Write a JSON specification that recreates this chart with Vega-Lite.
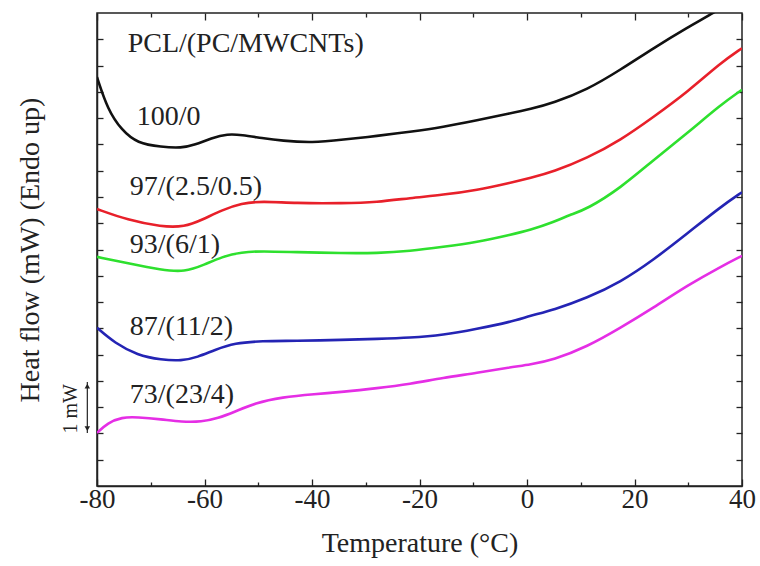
{
  "$schema": "https://vega.github.io/schema/vega-lite/v6.json",
  "width": 645,
  "height": 473,
  "autosize": "none",
  "padding": {"left": 97, "top": 13, "right": 18, "bottom": 80},
  "background": "white",
  "config": {
    "view": {"stroke": "#222", "strokeWidth": 1.5},
    "font": "Liberation Serif",
    "axis": {"domainColor": "#222", "domainWidth": 1.5, "tickColor": "#222", "tickWidth": 1.3, "grid": false, "labelFont": "Liberation Serif", "titleFont": "Liberation Serif", "labelColor": "#222", "titleColor": "#222", "titleFontWeight": "normal"}
  },
  "datasets": {
    "curves": [
      {"s": "100/0", "T": -80, "v": 7.78}, {"s": "100/0", "T": -78, "v": 7.16}, {"s": "100/0", "T": -75.4, "v": 6.77}, {"s": "100/0", "T": -72.5, "v": 6.52}, {"s": "100/0", "T": -68, "v": 6.45}, {"s": "100/0", "T": -64.3, "v": 6.43}, {"s": "100/0", "T": -61.8, "v": 6.49}, {"s": "100/0", "T": -58.7, "v": 6.62}, {"s": "100/0", "T": -55.7, "v": 6.7}, {"s": "100/0", "T": -53.1, "v": 6.68}, {"s": "100/0", "T": -49.3, "v": 6.62}, {"s": "100/0", "T": -45.6, "v": 6.57}, {"s": "100/0", "T": -40, "v": 6.53}, {"s": "100/0", "T": -34.2, "v": 6.59}, {"s": "100/0", "T": -27.9, "v": 6.66}, {"s": "100/0", "T": -21.8, "v": 6.74}, {"s": "100/0", "T": -15.6, "v": 6.83}, {"s": "100/0", "T": -9.3, "v": 6.96}, {"s": "100/0", "T": -3.1, "v": 7.09}, {"s": "100/0", "T": 0.6, "v": 7.17}, {"s": "100/0", "T": 4.9, "v": 7.29}, {"s": "100/0", "T": 11.2, "v": 7.54}, {"s": "100/0", "T": 17.4, "v": 7.92}, {"s": "100/0", "T": 23.5, "v": 8.33}, {"s": "100/0", "T": 29.9, "v": 8.73}, {"s": "100/0", "T": 34.7, "v": 9.0}, {"s": "100/0", "T": 40, "v": 9.34},
      {"s": "97/(2.5/0.5)", "T": -80, "v": 5.27}, {"s": "97/(2.5/0.5)", "T": -74.3, "v": 5.06}, {"s": "97/(2.5/0.5)", "T": -68, "v": 4.93}, {"s": "97/(2.5/0.5)", "T": -63.7, "v": 4.93}, {"s": "97/(2.5/0.5)", "T": -60.5, "v": 5.06}, {"s": "97/(2.5/0.5)", "T": -56.8, "v": 5.25}, {"s": "97/(2.5/0.5)", "T": -53.1, "v": 5.38}, {"s": "97/(2.5/0.5)", "T": -49.3, "v": 5.42}, {"s": "97/(2.5/0.5)", "T": -43.2, "v": 5.38}, {"s": "97/(2.5/0.5)", "T": -34.2, "v": 5.38}, {"s": "97/(2.5/0.5)", "T": -27.9, "v": 5.4}, {"s": "97/(2.5/0.5)", "T": -21.8, "v": 5.48}, {"s": "97/(2.5/0.5)", "T": -15.6, "v": 5.54}, {"s": "97/(2.5/0.5)", "T": -9.3, "v": 5.63}, {"s": "97/(2.5/0.5)", "T": -3.1, "v": 5.77}, {"s": "97/(2.5/0.5)", "T": 0.6, "v": 5.86}, {"s": "97/(2.5/0.5)", "T": 4.9, "v": 5.98}, {"s": "97/(2.5/0.5)", "T": 11.2, "v": 6.24}, {"s": "97/(2.5/0.5)", "T": 17.4, "v": 6.58}, {"s": "97/(2.5/0.5)", "T": 23.5, "v": 7.02}, {"s": "97/(2.5/0.5)", "T": 29.9, "v": 7.5}, {"s": "97/(2.5/0.5)", "T": 36.0, "v": 8.05}, {"s": "97/(2.5/0.5)", "T": 40, "v": 8.33},
      {"s": "93/(6/1)", "T": -80, "v": 4.36}, {"s": "93/(6/1)", "T": -74.3, "v": 4.24}, {"s": "93/(6/1)", "T": -68, "v": 4.11}, {"s": "93/(6/1)", "T": -63.7, "v": 4.07}, {"s": "93/(6/1)", "T": -60, "v": 4.21}, {"s": "93/(6/1)", "T": -56.8, "v": 4.36}, {"s": "93/(6/1)", "T": -53.1, "v": 4.45}, {"s": "93/(6/1)", "T": -49.3, "v": 4.47}, {"s": "93/(6/1)", "T": -43.2, "v": 4.45}, {"s": "93/(6/1)", "T": -34.2, "v": 4.43}, {"s": "93/(6/1)", "T": -27.9, "v": 4.43}, {"s": "93/(6/1)", "T": -21.8, "v": 4.47}, {"s": "93/(6/1)", "T": -15.6, "v": 4.55}, {"s": "93/(6/1)", "T": -9.3, "v": 4.64}, {"s": "93/(6/1)", "T": -3.1, "v": 4.78}, {"s": "93/(6/1)", "T": 0.6, "v": 4.87}, {"s": "93/(6/1)", "T": 4.9, "v": 5.02}, {"s": "93/(6/1)", "T": 8, "v": 5.16}, {"s": "93/(6/1)", "T": 11.2, "v": 5.27}, {"s": "93/(6/1)", "T": 17.4, "v": 5.67}, {"s": "93/(6/1)", "T": 23.5, "v": 6.2}, {"s": "93/(6/1)", "T": 29.9, "v": 6.72}, {"s": "93/(6/1)", "T": 36.0, "v": 7.25}, {"s": "93/(6/1)", "T": 40, "v": 7.54},
      {"s": "87/(11/2)", "T": -80, "v": 3.01}, {"s": "87/(11/2)", "T": -76.7, "v": 2.72}, {"s": "87/(11/2)", "T": -72.5, "v": 2.49}, {"s": "87/(11/2)", "T": -68, "v": 2.4}, {"s": "87/(11/2)", "T": -64.3, "v": 2.38}, {"s": "87/(11/2)", "T": -61.3, "v": 2.45}, {"s": "87/(11/2)", "T": -58.1, "v": 2.59}, {"s": "87/(11/2)", "T": -54.4, "v": 2.72}, {"s": "87/(11/2)", "T": -49.3, "v": 2.76}, {"s": "87/(11/2)", "T": -43.2, "v": 2.76}, {"s": "87/(11/2)", "T": -34.2, "v": 2.78}, {"s": "87/(11/2)", "T": -27.9, "v": 2.8}, {"s": "87/(11/2)", "T": -21.8, "v": 2.82}, {"s": "87/(11/2)", "T": -15.6, "v": 2.87}, {"s": "87/(11/2)", "T": -9.3, "v": 2.99}, {"s": "87/(11/2)", "T": -3.1, "v": 3.12}, {"s": "87/(11/2)", "T": 0.6, "v": 3.24}, {"s": "87/(11/2)", "T": 4.9, "v": 3.35}, {"s": "87/(11/2)", "T": 11.2, "v": 3.58}, {"s": "87/(11/2)", "T": 17.4, "v": 3.88}, {"s": "87/(11/2)", "T": 23.5, "v": 4.3}, {"s": "87/(11/2)", "T": 29.9, "v": 4.81}, {"s": "87/(11/2)", "T": 36.0, "v": 5.31}, {"s": "87/(11/2)", "T": 40, "v": 5.59},
      {"s": "73/(23/4)", "T": -80, "v": 1.01}, {"s": "73/(23/4)", "T": -78, "v": 1.2}, {"s": "73/(23/4)", "T": -75.4, "v": 1.31}, {"s": "73/(23/4)", "T": -72.5, "v": 1.31}, {"s": "73/(23/4)", "T": -68, "v": 1.27}, {"s": "73/(23/4)", "T": -64.3, "v": 1.22}, {"s": "73/(23/4)", "T": -60.5, "v": 1.22}, {"s": "73/(23/4)", "T": -57.5, "v": 1.29}, {"s": "73/(23/4)", "T": -54.4, "v": 1.41}, {"s": "73/(23/4)", "T": -50.6, "v": 1.58}, {"s": "73/(23/4)", "T": -45.6, "v": 1.69}, {"s": "73/(23/4)", "T": -39.5, "v": 1.75}, {"s": "73/(23/4)", "T": -34.2, "v": 1.79}, {"s": "73/(23/4)", "T": -27.9, "v": 1.86}, {"s": "73/(23/4)", "T": -21.8, "v": 1.94}, {"s": "73/(23/4)", "T": -15.6, "v": 2.06}, {"s": "73/(23/4)", "T": -9.3, "v": 2.15}, {"s": "73/(23/4)", "T": -3.1, "v": 2.26}, {"s": "73/(23/4)", "T": 0.6, "v": 2.31}, {"s": "73/(23/4)", "T": 4.9, "v": 2.4}, {"s": "73/(23/4)", "T": 11.2, "v": 2.65}, {"s": "73/(23/4)", "T": 17.4, "v": 3.01}, {"s": "73/(23/4)", "T": 23.5, "v": 3.39}, {"s": "73/(23/4)", "T": 29.9, "v": 3.82}, {"s": "73/(23/4)", "T": 36.0, "v": 4.17}, {"s": "73/(23/4)", "T": 40, "v": 4.38}
    ],
    "labels": [
      {"label": "PCL/(PC/MWCNTs)", "T": -74.3, "v": 8.41},
      {"label": "100/0", "T": -72.6, "v": 7.02},
      {"label": "97/(2.5/0.5)", "T": -73.9, "v": 5.69},
      {"label": "93/(6/1)", "T": -73.9, "v": 4.59},
      {"label": "87/(11/2)", "T": -73.9, "v": 3.03},
      {"label": "73/(23/4)", "T": -73.9, "v": 1.73}
    ],
    "arrow": [
      {"T": -81.8, "v1": 1.01, "v2": 1.98}
    ],
    "heads": [
      {"T": -81.8, "v": 1.9, "dir": "triangle-up"},
      {"T": -81.8, "v": 1.09, "dir": "triangle-down"}
    ],
    "scale": [
      {"text": "1 mW", "T": -84.9, "v": 1.47}
    ]
  },
  "layer": [
    {
      "data": {"name": "curves"},
      "mark": {"type": "line", "interpolate": "basis", "strokeWidth": 2.6, "clip": true},
      "encoding": {
        "x": {"field": "T", "type": "quantitative", "scale": {"domain": [-80, 40], "nice": false, "zero": false},
          "axis": {"orient": "bottom", "values": [-80, -70, -60, -50, -40, -30, -20, -10, 0, 10, 20, 30, 40],
            "labelExpr": "datum.value % 20 === 0 ? '' + datum.value : ''",
            "tickSize": {"condition": {"test": "datum.value % 20 === 0", "value": -7}, "value": -4},
            "labelPadding": 7, "labelFontSize": 27, "labelFlush": false, "labelOverlap": false,
            "title": "Temperature (°C)", "titleFontSize": 28, "titlePadding": 14}},
        "y": {"field": "v", "type": "quantitative", "scale": {"domain": [0, 9], "nice": false, "zero": false},
          "axis": {"orient": "left", "values": [0.5, 1, 1.5, 2, 2.5, 3, 3.5, 4, 4.5, 5, 5.5, 6, 6.5, 7, 7.5, 8, 8.5],
            "labels": false, "tickSize": -6, "title": "Heat flow (mW) (Endo up)", "titleFontSize": 28, "titlePadding": 52}},
        "color": {"field": "s", "type": "nominal", "legend": null,
          "scale": {"domain": ["100/0", "97/(2.5/0.5)", "93/(6/1)", "87/(11/2)", "73/(23/4)"],
            "range": ["#111111", "#e8202a", "#2ee02e", "#2424b4", "#e52ee5"]}},
        "detail": {"field": "s"}
      }
    },
    {
      "data": {"name": "labels"},
      "mark": {"type": "text", "align": "left", "baseline": "middle", "fontSize": 28, "font": "Liberation Serif", "color": "#222"},
      "encoding": {
        "x": {"field": "T", "type": "quantitative",
          "axis": {"orient": "top", "values": [-80, -70, -60, -50, -40, -30, -20, -10, 0, 10, 20, 30, 40], "labels": false, "domain": false,
            "tickSize": {"condition": {"test": "datum.value % 20 === 0", "value": -7}, "value": -4}, "title": null}},
        "y": {"field": "v", "type": "quantitative",
          "axis": {"orient": "right", "values": [0.5, 1, 1.5, 2, 2.5, 3, 3.5, 4, 4.5, 5, 5.5, 6, 6.5, 7, 7.5, 8, 8.5], "labels": false, "domain": false, "tickSize": -6, "title": null}},
        "text": {"field": "label"}
      }
    },
    {
      "data": {"name": "arrow"},
      "mark": {"type": "rule", "color": "#222", "strokeWidth": 1.2},
      "encoding": {
        "x": {"field": "T", "type": "quantitative", "axis": null},
        "y": {"field": "v1", "type": "quantitative", "axis": null},
        "y2": {"field": "v2"}
      }
    },
    {
      "data": {"name": "heads"},
      "mark": {"type": "point", "filled": true, "color": "#222", "size": 30, "opacity": 1},
      "encoding": {
        "x": {"field": "T", "type": "quantitative", "axis": null},
        "y": {"field": "v", "type": "quantitative", "axis": null},
        "shape": {"field": "dir", "type": "nominal", "scale": null}
      }
    },
    {
      "data": {"name": "scale"},
      "mark": {"type": "text", "angle": 270, "align": "center", "baseline": "middle", "fontSize": 20, "font": "Liberation Serif", "color": "#222"},
      "encoding": {
        "x": {"field": "T", "type": "quantitative", "axis": null},
        "y": {"field": "v", "type": "quantitative", "axis": null},
        "text": {"field": "text"}
      }
    }
  ],
  "resolve": {"axis": {"x": "independent", "y": "independent"}}
}
